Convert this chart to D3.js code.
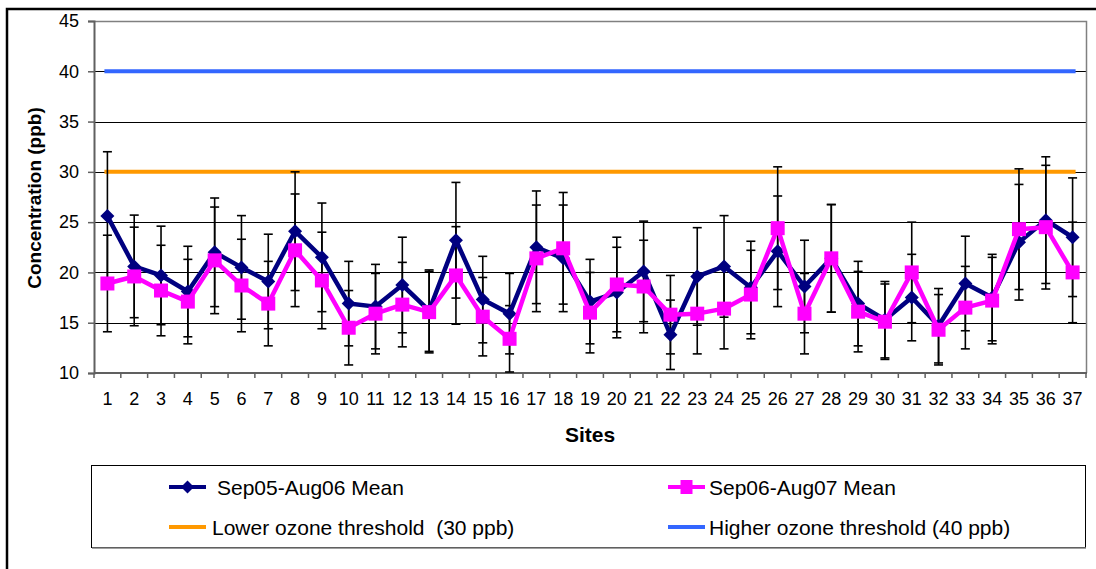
<!DOCTYPE html>
<html>
<head>
<meta charset="utf-8">
<script src="https://cdn.jsdelivr.net/npm/d3@7"></script>
<style>
  html, body { margin: 0; padding: 0; background: #fff; }
  svg { display: block; font-family: "Liberation Sans", Arial, sans-serif; }
  text { white-space: pre; }
</style>
</head>
<body>
<svg id="chart" width="1096" height="569"></svg>
<script>
// Monitoring sites 1..37
const sites = d3.range(1, 38).map(String);

// Mean ozone concentration (ppb) and standard deviation, Sep05-Aug06
const mean0506 = [25.6, 20.6, 19.7, 18.1, 22.0, 20.5, 19.1, 24.1, 21.5, 16.9,
                  16.6, 18.75, 16.2, 23.2, 17.3, 15.9, 22.5, 21.4, 17.1, 18.0,
                  20.1, 13.8, 19.6, 20.6, 18.5, 22.1, 18.6, 21.4, 16.9, 15.3,
                  17.5, 14.7, 18.9, 17.5, 23.0, 25.2, 23.5];
const sd0506   = [6.4, 5.1, 4.9, 4.5, 5.4, 5.15, 4.7, 5.9, 5.4, 4.2,
                  4.2, 4.75, 4.05, 5.75, 4.3, 4.0, 5.6, 5.3, 4.2, 4.5,
                  5.0, 3.45, 4.85, 5.05, 4.6, 5.5, 4.6, 5.35, 4.2, 3.8,
                  4.3, 3.7, 4.7, 4.3, 5.75, 6.3, 5.9];

// Mean ozone concentration (ppb) and standard deviation, Sep06-Aug07
const mean0607 = [18.9, 19.6, 18.2, 17.1, 21.2, 18.7, 16.9, 22.2, 19.2, 14.5,
                  15.9, 16.8, 16.05, 19.7, 15.6, 13.4, 21.4, 22.4, 16.0, 18.8,
                  18.6, 15.8, 15.9, 16.4, 17.8, 24.4, 15.9, 21.4, 16.1, 15.1,
                  20.0, 14.3, 16.5, 17.2, 24.3, 24.5, 20.0];
const sd0607   = [4.8, 4.9, 4.5, 4.2, 5.3, 4.6, 4.2, 5.6, 4.8, 3.7,
                  4.0, 4.2, 4.05, 4.85, 3.9, 3.3, 5.3, 5.55, 4.0, 4.7,
                  4.6, 3.9, 4.0, 4.0, 4.4, 6.1, 4.0, 5.35, 4.0, 3.75,
                  5.0, 3.5, 4.1, 4.3, 6.0, 6.15, 5.0];

// Ozone thresholds (ppb)
const lowerThreshold = 30;
const higherThreshold = 40;

const yTicks = [10, 15, 20, 25, 30, 35, 40, 45];

const legendLabels = ["Sep05-Aug06 Mean", "Sep06-Aug07 Mean",
                      "Lower ozone threshold  (30 ppb)", "Higher ozone threshold (40 ppb)"];

const NAVY = "#000080", MAGENTA = "#FF00FF", ORANGE = "#FF9900", BLUE = "#3366FF";

const svg = d3.select("#chart");

// outer chart frame
svg.append("rect").attr("x", 7).attr("y", 9).attr("width", 1200).attr("height", 700)
  .attr("fill", "none").attr("stroke", "#000").attr("stroke-width", 2.5);

const plot = { left: 94, right: 1086, top: 21, bottom: 373 };

const x = d3.scaleBand().domain(sites).range([plot.left, plot.right]);
const y = d3.scaleLinear().domain([10, 45]).range([plot.bottom, plot.top]);
const cx = s => x(s) + x.bandwidth() / 2;

// horizontal gridlines
svg.append("g").selectAll("line").data(yTicks.filter(t => t > 10 && t < 45)).join("line")
  .attr("x1", plot.left).attr("x2", plot.right)
  .attr("y1", d => Math.round(y(d)) + 0.5).attr("y2", d => Math.round(y(d)) + 0.5)
  .attr("stroke", "#000").attr("stroke-width", 1);

// plot frame (top and right)
svg.append("path")
  .attr("d", `M${plot.left},${plot.top + 0.5}H${plot.right + 0.5}V${plot.bottom}`)
  .attr("fill", "none").attr("stroke", "#808080").attr("stroke-width", 1.5);

// y axis
const yAxis = svg.append("g").attr("transform", `translate(${plot.left},0)`)
  .call(d3.axisLeft(y).tickValues(yTicks).tickSize(6).tickPadding(9));
yAxis.select(".domain").attr("stroke", "#606060").attr("stroke-width", 2);
yAxis.selectAll(".tick line").attr("stroke", "#606060").attr("stroke-width", 1.5);
yAxis.selectAll(".tick text").attr("font-size", 18).attr("fill", "#000")
  .attr("font-family", "Liberation Sans, Arial, sans-serif");

// x axis: ticks at category boundaries, labels at centres
const xAxisG = svg.append("g").attr("transform", `translate(0,${plot.bottom})`);
xAxisG.append("line").attr("x1", plot.left).attr("x2", plot.right + 1)
  .attr("stroke", "#606060").attr("stroke-width", 2);
xAxisG.selectAll("line.tk").data(sites.concat(["end"])).join("line").attr("class", "tk")
  .attr("x1", d => d === "end" ? plot.right : x(d)).attr("x2", d => d === "end" ? plot.right : x(d))
  .attr("y1", 0).attr("y2", 5).attr("stroke", "#606060").attr("stroke-width", 1.5);
xAxisG.selectAll("text").data(sites).join("text")
  .attr("x", d => cx(d)).attr("y", 32).attr("text-anchor", "middle")
  .attr("font-size", 18).attr("fill", "#000").text(d => d);

// axis titles
svg.append("text").attr("transform", "translate(41,198) rotate(-90)")
  .attr("text-anchor", "middle").attr("font-weight", "bold").attr("font-size", 19)
  .text("Concentration (ppb)");
svg.append("text").attr("x", 590).attr("y", 442).attr("text-anchor", "middle")
  .attr("font-weight", "bold").attr("font-size", 21).text("Sites");

// threshold lines across all sites
const firstSite = sites[0], lastSite = sites[sites.length - 1];
[[lowerThreshold, ORANGE], [higherThreshold, BLUE]].forEach(([v, c]) => {
  svg.append("line").attr("x1", cx(firstSite) - 3).attr("x2", cx(lastSite) + 3)
    .attr("y1", y(v)).attr("y2", y(v)).attr("stroke", c).attr("stroke-width", 4);
});

// error bars (mean ± sd) for both periods
function errorBars(means, sds) {
  const g = svg.append("g").attr("stroke", "#000").attr("stroke-width", 1.6);
  sites.forEach((s, i) => {
    const hi = y(means[i] + sds[i]), lo = y(means[i] - sds[i]), xc = cx(s);
    g.append("line").attr("x1", xc).attr("x2", xc).attr("y1", hi).attr("y2", lo);
    g.append("line").attr("x1", xc - 4.5).attr("x2", xc + 4.5).attr("y1", hi).attr("y2", hi);
    g.append("line").attr("x1", xc - 4.5).attr("x2", xc + 4.5).attr("y1", lo).attr("y2", lo);
  });
}
errorBars(mean0506, sd0506);
errorBars(mean0607, sd0607);

const diamond = r => `M0,${-r}L${r},0L0,${r}L${-r},0Z`;

// Sep05-Aug06 series
const line = d3.line().x(d => cx(d.site)).y(d => y(d.v));
const ser1 = sites.map((s, i) => ({ site: s, v: mean0506[i] }));
const ser2 = sites.map((s, i) => ({ site: s, v: mean0607[i] }));

svg.append("path").datum(ser1).attr("d", line).attr("fill", "none")
  .attr("stroke", NAVY).attr("stroke-width", 4.5).attr("stroke-linejoin", "round");
svg.append("g").selectAll("path").data(ser1).join("path")
  .attr("transform", d => `translate(${cx(d.site)},${y(d.v)})`)
  .attr("d", diamond(7)).attr("fill", NAVY);

// Sep06-Aug07 series
svg.append("path").datum(ser2).attr("d", line).attr("fill", "none")
  .attr("stroke", MAGENTA).attr("stroke-width", 4.5).attr("stroke-linejoin", "round");
svg.append("g").selectAll("rect").data(ser2).join("rect")
  .attr("x", d => cx(d.site) - 7).attr("y", d => y(d.v) - 7)
  .attr("width", 14).attr("height", 14).attr("fill", MAGENTA);

// legend
const lg = svg.append("g");
lg.append("rect").attr("x", 91.5).attr("y", 465.5).attr("width", 994).attr("height", 82)
  .attr("fill", "#fff").attr("stroke", "#000").attr("stroke-width", 1);
lg.append("line").attr("x1", 92).attr("x2", 1086).attr("y1", 548).attr("y2", 548)
  .attr("stroke", "#808080").attr("stroke-width", 1.5);

const entries = [
  { label: legendLabels[0], color: NAVY, mark: "diamond", sx: 169, tx: 217, ly: 487 },
  { label: legendLabels[1], color: MAGENTA, mark: "square", sx: 668, tx: 709, ly: 487 },
  { label: legendLabels[2], color: ORANGE, mark: null, sx: 169, tx: 212, ly: 527 },
  { label: legendLabels[3], color: BLUE, mark: null, sx: 668, tx: 709, ly: 527 }
];
entries.forEach(e => {
  const g = lg.append("g");
  g.append("line").attr("x1", e.sx).attr("x2", e.sx + 37).attr("y1", e.ly).attr("y2", e.ly)
    .attr("stroke", e.color).attr("stroke-width", 4);
  const mx = e.sx + 18.5;
  if (e.mark === "diamond") {
    g.append("path").attr("transform", `translate(${mx},${e.ly})`).attr("d", diamond(6.5)).attr("fill", e.color);
  } else if (e.mark === "square") {
    g.append("rect").attr("x", mx - 6).attr("y", e.ly - 7).attr("width", 12).attr("height", 14).attr("fill", e.color);
  }
  g.append("text").attr("x", e.tx).attr("y", e.ly + 7.5).attr("font-size", 21).attr("fill", "#000")
    .text(e.label);
});
</script>
</body>
</html>
